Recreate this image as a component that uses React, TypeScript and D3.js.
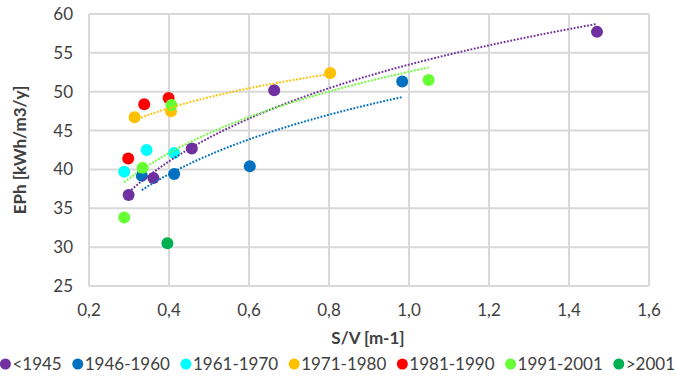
import { useEffect, useRef } from 'react';
import * as d3 from 'd3';

// S/V [m-1] and EPh [kWh/m3/y], one pair of arrays per period
const periods = ['<1945', '1946-1960', '1961-1970', '1971-1980', '1981-1990', '1991-2001', '>2001'];
const colors = ['#7030A0', '#0070C0', '#00FFFF', '#FFC000', '#FF0000', '#66FF33', '#00B050'];

const svPre1945 = [0.299, 0.361, 0.457, 0.663, 1.47];
const ephPre1945 = [36.7, 38.9, 42.7, 50.2, 57.7];
const sv1946 = [0.332, 0.413, 0.602, 0.983];
const eph1946 = [39.2, 39.4, 40.4, 51.3];
const sv1961 = [0.288, 0.344, 0.413];
const eph1961 = [39.7, 42.5, 42.1];
const sv1971 = [0.314, 0.405, 0.803];
const eph1971 = [46.7, 47.5, 52.4];
const sv1981 = [0.298, 0.338, 0.399];
const eph1981 = [41.4, 48.4, 49.2];
const sv1991 = [0.288, 0.334, 0.406, 1.049];
const eph1991 = [33.8, 40.2, 48.3, 51.5];
const svPost2001 = [0.396];
const ephPost2001 = [30.5];

// which periods get a logarithmic trendline
const withTrend = [true, true, false, true, false, true, false];

const xTicks = [0.2, 0.4, 0.6, 0.8, 1.0, 1.2, 1.4, 1.6];
const yTicks = [25, 30, 35, 40, 45, 50, 55, 60];

const svLists = [svPre1945, sv1946, sv1961, sv1971, sv1981, sv1991, svPost2001];
const ephLists = [ephPre1945, eph1946, eph1961, eph1971, eph1981, eph1991, ephPost2001];

const width = 675;
const height = 380;
const font = 'Lato, "Open Sans", sans-serif';
const textColor = '#404040';

// y = a ln(x) + b, least squares (same as the spreadsheet trendline)
function logFit(xs: number[], ys: number[]) {
    const lx = xs.map((x) => Math.log(x));
    const mx = d3.mean(lx) as number;
    const my = d3.mean(ys) as number;
    let sxy = 0;
    let sxx = 0;
    lx.forEach((v, i) => {
        sxy += (v - mx) * (ys[i] - my);
        sxx += (v - mx) * (v - mx);
    });
    const a = sxy / sxx;
    return { a, b: my - a * mx };
}

export default function App() {
    const chart = useRef<SVGSVGElement>(null);

    useEffect(() => {
        document.body.style.margin = '0';
        const svg = d3.select(chart.current);
        svg.selectAll('*').remove();

        const xScale = d3.scaleLinear().domain([0.2, 1.6]).range([89, 649]);
        const yScale = d3.scaleLinear().domain([25, 60]).range([286, 14]);

        // grid (the frame is part of it)
        const grid = svg.append('g').attr('stroke', '#D9D9D9').attr('stroke-width', 2);
        grid.selectAll('line.v')
            .data(xTicks)
            .join('line')
            .attr('class', 'v')
            .attr('x1', (d) => xScale(d))
            .attr('x2', (d) => xScale(d))
            .attr('y1', yScale(25))
            .attr('y2', yScale(60));
        grid.selectAll('line.h')
            .data(yTicks)
            .join('line')
            .attr('class', 'h')
            .attr('x1', xScale(0.2))
            .attr('x2', xScale(1.6))
            .attr('y1', (d) => yScale(d))
            .attr('y2', (d) => yScale(d));

        // tick labels
        const fmt = (d: number) => d.toFixed(1).replace('.', ',');
        svg.append('g')
            .selectAll('text')
            .data(xTicks)
            .join('text')
            .attr('x', (d) => xScale(d))
            .attr('y', 316)
            .attr('text-anchor', 'middle')
            .attr('font-family', font)
            .attr('font-size', 17)
            .attr('fill', textColor)
            .text(fmt);
        svg.append('g')
            .selectAll('text')
            .data(yTicks)
            .join('text')
            .attr('x', 73)
            .attr('y', (d) => yScale(d) + 6)
            .attr('text-anchor', 'end')
            .attr('font-family', font)
            .attr('font-size', 17)
            .attr('fill', textColor)
            .text((d) => d);

        // axis titles
        svg.append('text')
            .attr('x', 368)
            .attr('y', 344)
            .attr('text-anchor', 'middle')
            .attr('font-family', font)
            .attr('font-size', 17)
            .attr('font-weight', 'bold')
            .attr('fill', textColor)
            .text('S/V [m-1]');
        svg.append('text')
            .attr('transform', 'translate(26,150) rotate(-90)')
            .attr('text-anchor', 'middle')
            .attr('font-family', font)
            .attr('font-size', 17)
            .attr('font-weight', 'bold')
            .attr('fill', textColor)
            .text('EPh [kWh/m3/y]');

        // points
        const points = svg.append('g');
        periods.forEach((_p, i) => {
            points
                .selectAll(`circle.s${i}`)
                .data(svLists[i].map((x, j) => ({ x, y: ephLists[i][j] })))
                .join('circle')
                .attr('class', `s${i}`)
                .attr('cx', (d) => xScale(d.x))
                .attr('cy', (d) => yScale(d.y))
                .attr('r', 6)
                .attr('fill', colors[i]);
        });

        // trendlines
        const line = d3
            .line<number[]>()
            .x((d) => xScale(d[0]))
            .y((d) => yScale(d[1]));
        periods.forEach((_p, i) => {
            if (!withTrend[i]) return;
            const { a, b } = logFit(svLists[i], ephLists[i]);
            const [x0, x1] = d3.extent(svLists[i]) as [number, number];
            const pts = d3.range(0, 41).map((k) => {
                const x = x0 + ((x1 - x0) * k) / 40;
                return [x, a * Math.log(x) + b];
            });
            svg.append('path')
                .attr('d', line(pts))
                .attr('fill', 'none')
                .attr('stroke', colors[i])
                .attr('stroke-width', 2)
                .attr('stroke-dasharray', '1.8 1.6');
        });

        // legend, laid out by measured text widths and centred
        const legend = svg.append('g');
        const items = periods.map((p, i) => {
            const g = legend.append('g');
            g.append('circle').attr('cx', 0).attr('cy', 0).attr('r', 5.5).attr('fill', colors[i]);
            const t = g
                .append('text')
                .attr('x', 7)
                .attr('y', 6)
                .attr('font-family', font)
                .attr('font-size', 17)
                .attr('fill', textColor)
                .text(p);
            return { g, w: 7 + (t.node() as SVGTextElement).getComputedTextLength() };
        });
        const gap = 16;
        const total = d3.sum(items, (d) => d.w) + gap * (items.length - 1) + 5.5;
        let cx = (width - total) / 2 + 5.5;
        items.forEach((it) => {
            it.g.attr('transform', `translate(${cx},364)`);
            cx += it.w + gap;
        });
    }, []);

    return <svg ref={chart} width={width} height={height} style={{ display: 'block', background: '#fff' }} />;
}
